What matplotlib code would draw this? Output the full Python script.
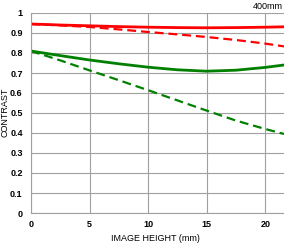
import matplotlib
matplotlib.use("Agg")
import matplotlib.pyplot as plt

# Image height positions (mm)
height = [0, 2.5, 5, 7.5, 10, 12.5, 15, 17.5, 20, 21.6]

# MTF values
red_solid = [0.945, 0.940, 0.936, 0.932, 0.929, 0.927, 0.926, 0.927, 0.929, 0.931]
red_dashed = [0.945, 0.938, 0.930, 0.918, 0.905, 0.893, 0.880, 0.865, 0.847, 0.833]
green_solid = [0.810, 0.787, 0.765, 0.746, 0.729, 0.716, 0.709, 0.714, 0.728, 0.740]
green_dashed = [0.810, 0.763, 0.713, 0.664, 0.614, 0.563, 0.512, 0.462, 0.420, 0.395]

x_ticks = [0, 5, 10, 15, 20]
y_ticks = [0, 0.1, 0.2, 0.3, 0.4, 0.5, 0.6, 0.7, 0.8, 0.9, 1]
y_labels = ["0", "0.1", "0.2", "0.3", "0.4", "0.5", "0.6", "0.7", "0.8", "0.9", "1"]

plt.rcParams['font.family'] = ['Liberation Sans', 'DejaVu Sans']

fig = plt.figure(figsize=(2.84, 2.43), dpi=100)
ax = fig.add_axes([31 / 284, 30 / 243, 253 / 284, 200 / 243])

grid_col = "#a0a0a0"
ax.plot(height, red_solid, color="#ff0000", lw=2.0)
ax.plot(height, red_dashed, color="#ff0000", lw=1.6, dashes=(4, 2.2))
ax.plot(height, green_solid, color="#008000", lw=2.0)
ax.plot(height, green_dashed, color="#008000", lw=1.6, dashes=(4, 2.2))

ax.set_xlim(0, 21.6)
ax.set_ylim(0, 1)
ax.set_xticks(x_ticks)
ax.set_yticks(y_ticks)
ax.set_yticklabels(y_labels)
ax.grid(True, color=grid_col, lw=0.8)
ax.set_axisbelow(True)
for side in ["top", "right"]:
    ax.spines[side].set_visible(False)
for side in ["left", "bottom"]:
    ax.spines[side].set_color(grid_col)
    ax.spines[side].set_linewidth(0.8)
ax.tick_params(length=0, labelsize=6.5)
ax.tick_params(axis="x", pad=5)
ax.tick_params(axis="y", pad=6)
for lab in ax.get_xticklabels() + ax.get_yticklabels():
    lab.set_fontweight("bold")

fig.text(155 / 284, 1 - 238 / 243, "IMAGE HEIGHT (mm)", ha="center", va="center", fontsize=6.5)
fig.text(5 / 284, 1 - 112 / 243, "CONTRAST", ha="center", va="center", rotation=90, fontsize=6.5)
fig.text(0.995, 0.99, "400mm", ha="right", va="top", fontsize=6.5)

fig.savefig("out.png", dpi=100)
